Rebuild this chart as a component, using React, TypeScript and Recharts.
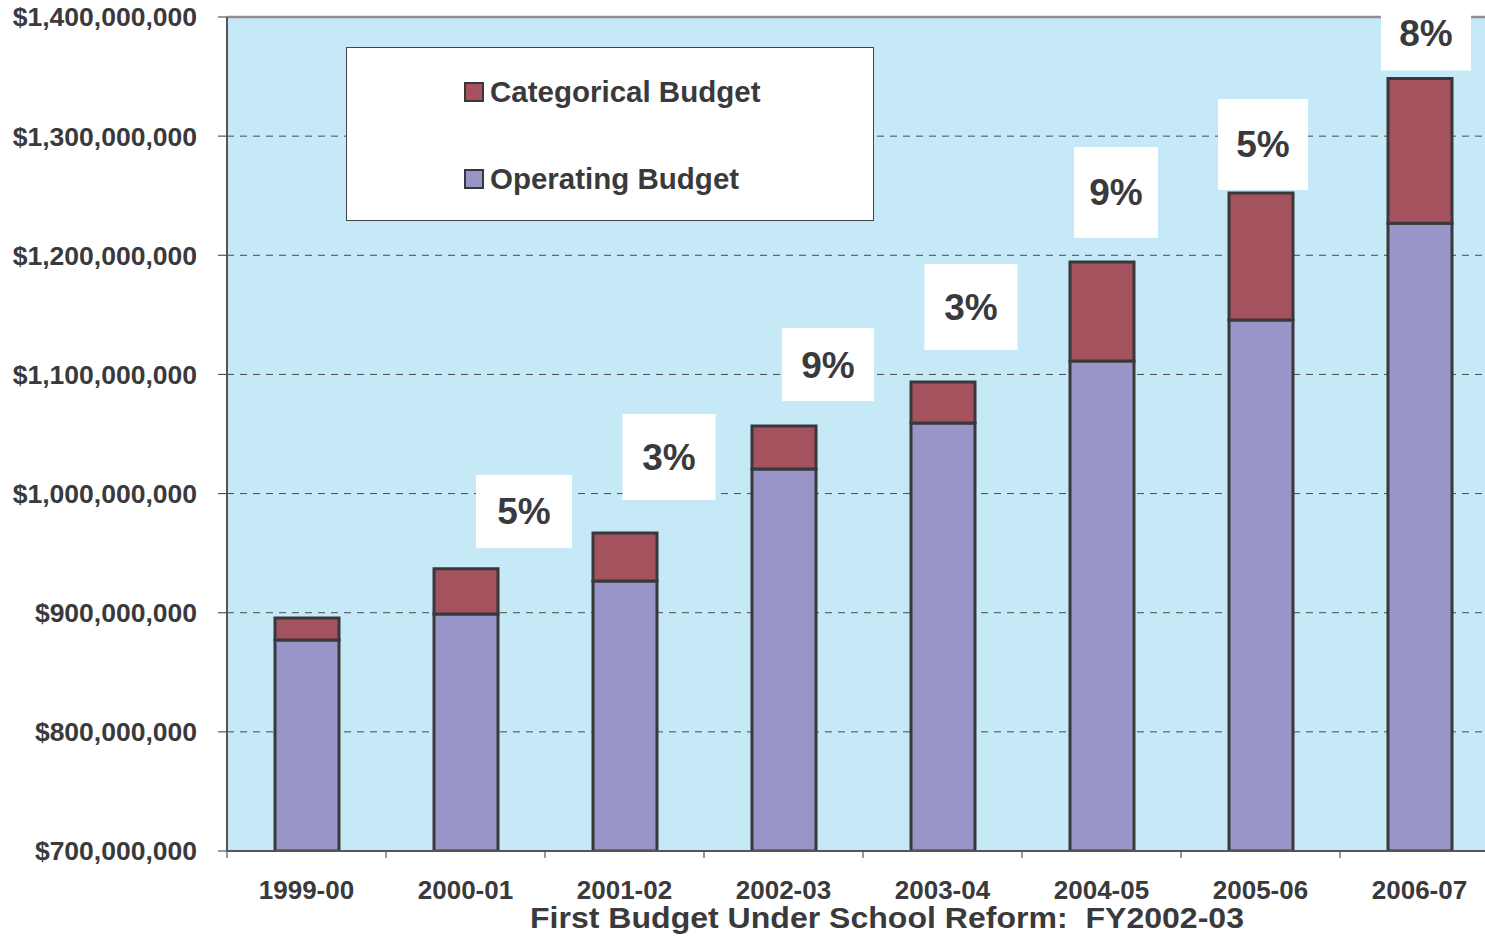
import React from 'react';
import { BarChart, Bar, XAxis, YAxis, CartesianGrid, ReferenceLine, Legend, LabelList } from 'recharts';

const categories = ['1999-00', '2000-01', '2001-02', '2002-03', '2003-04', '2004-05', '2005-06', '2006-07'];
const operatingBudget = [877000000, 899000000, 926600000, 1020600000, 1059200000, 1111300000, 1145700000, 1226900000];
const categoricalBudget = [18500000, 37800000, 40300000, 36100000, 34400000, 83100000, 106600000, 121500000];
const growthLabels = ['', '5%', '3%', '9%', '3%', '9%', '5%', '8%'];
const yTicks = [700000000, 800000000, 900000000, 1000000000, 1100000000, 1200000000, 1300000000, 1400000000];
const xAxisTitle = 'First Budget Under School Reform:  FY2002-03';

// label box styling (offset from bar centre, gap above bar top, box size)
const labelBoxStyle = [
  { dx: 0, gap: 0, w: 0, h: 0 },
  { dx: 58, gap: 21, w: 96, h: 73 },
  { dx: 44, gap: 33, w: 93, h: 86 },
  { dx: 44, gap: 25, w: 92, h: 73 },
  { dx: 28, gap: 32, w: 93, h: 86 },
  { dx: 14, gap: 24, w: 84, h: 91 },
  { dx: 2, gap: 3, w: 90, h: 91 },
  { dx: 6, gap: 8, w: 90, h: 74 },
];

const data = categories.map((c, i) => ({
  year: c,
  operating: operatingBudget[i],
  categorical: categoricalBudget[i],
  growth: growthLabels[i],
}));

const FONT = '"Liberation Sans", Arial, Helvetica, sans-serif';
const TEXT = '#3a3a3c';
const BG = '#C6E9F8';
const CAT = '#A5525F';
const OPS = '#9A95C8';
const EDGE = '#38383a';

const fmt = (v: number) => '$' + v.toLocaleString('en-US');

const XTick = (props: any) => {
  const { x, y, payload, index, visibleTicksCount } = props;
  const half = payload && payload.offset ? payload.offset : 79.5;
  const last = index === (visibleTicksCount ?? categories.length) - 1;
  return (
    <g>
      <line x1={x - half} y1={y} x2={x - half} y2={y + 7} stroke="#555" strokeWidth={1.2} />
      {last && <line x1={x + half} y1={y} x2={x + half} y2={y + 7} stroke="#555" strokeWidth={1.2} />}
      <text x={x} y={y + 48} textAnchor="middle" fontFamily={FONT} fontWeight="bold" fontSize={26} fill={TEXT}>
        {payload.value}
      </text>
    </g>
  );
};

const GrowthLabel = (props: any) => {
  const { x, y, width, index } = props;
  const label = growthLabels[index];
  if (!label) return null;
  const s = labelBoxStyle[index];
  const cx = x + width / 2 + s.dx;
  const bottom = y - s.gap;
  const top = bottom - s.h;
  return (
    <g>
      <rect x={cx - s.w / 2} y={top} width={s.w} height={s.h} fill="#ffffff" />
      <text x={cx} y={top + s.h / 2 + 13} textAnchor="middle" fontFamily={FONT} fontWeight="bold" fontSize={37} fill={TEXT}>
        {label}
      </text>
    </g>
  );
};

const LegendBox = (props: any) => {
  const items = [...(props.payload || [])];
  return (
    <div
      style={{
        width: 526,
        height: 172,
        background: '#fff',
        border: '1px solid #444',
        position: 'relative',
        fontFamily: FONT,
      }}
    >
      {items.map((it: any, i: number) => (
        <div
          key={i}
          style={{
            position: 'absolute',
            left: 117,
            top: i === 0 ? 26 : 113,
            height: 36,
            display: 'flex',
            alignItems: 'center',
            whiteSpace: 'nowrap',
          }}
        >
          <span
            style={{
              display: 'inline-block',
              width: 16,
              height: 16,
              background: it.color,
              border: `2px solid ${EDGE}`,
              marginRight: 6,
            }}
          />
          <span style={{ fontSize: 29.5, fontWeight: 'bold', color: TEXT }}>{it.value}</span>
        </div>
      ))}
    </div>
  );
};

const TitleLabel = (props: any) => {
  const vb = props.viewBox || { x: 227, y: 851, width: 1272, height: 88 };
  return (
    <text
      x={530}
      y={vb.y + 77}
      textAnchor="start"
      fontFamily={FONT}
      fontWeight="bold"
      fontSize={29}
      fill={TEXT}
      textLength={714}
      lengthAdjust="spacingAndGlyphs"
      style={{ whiteSpace: 'pre' }}
      xmlSpace="preserve"
    >
      {xAxisTitle}
    </text>
  );
};

export default function App() {
  return (
    <div style={{ position: 'absolute', left: 0, top: 0, width: 1485, height: 939, background: '#fff', overflow: 'hidden' }}>
      <BarChart
        width={1499}
        height={939}
        data={data}
        margin={{ top: 17, right: 0, bottom: 0, left: 0 }}
        barSize={64}
      >
        <CartesianGrid
          vertical={false}
          horizontal
          fill={BG}
          stroke="#4a4a4a"
          strokeDasharray="7 6"
          strokeWidth={1}
        />
        <ReferenceLine y={1400000000} stroke="#968b8b" strokeWidth={2.5} />
        <XAxis
          dataKey="year"
          height={88}
          interval={0}
          tickLine={false}
          tickSize={0}
          tickMargin={0}
          axisLine={{ stroke: '#555', strokeWidth: 2 }}
          tick={<XTick />}
          label={{ content: <TitleLabel /> } as any}
        />
        <YAxis
          width={227}
          domain={[700000000, 1400000000]}
          ticks={yTicks}
          allowDataOverflow
          interval={0}
          tickSize={9}
          tickMargin={21}
          tickLine={{ stroke: '#555', strokeWidth: 1.2 }}
          axisLine={{ stroke: '#555', strokeWidth: 2 }}
          tickFormatter={fmt}
          tick={{ fontFamily: FONT, fontWeight: 'bold', fontSize: 26.5, fill: TEXT }}
        />
        <Legend
          layout="horizontal"
          verticalAlign="middle"
          align="center"
          content={<LegendBox />}
          wrapperStyle={{ position: 'absolute', left: 346, top: 47, width: 528, height: 174 }}
        />
        <Bar
          dataKey="operating"
          name="Operating Budget"
          stackId="a"
          fill={OPS}
          stroke={EDGE}
          strokeWidth={3}
          isAnimationActive={false}
        />
        <Bar
          dataKey="categorical"
          name="Categorical Budget"
          stackId="a"
          fill={CAT}
          stroke={EDGE}
          strokeWidth={3}
          isAnimationActive={false}
        >
          <LabelList dataKey="growth" content={<GrowthLabel />} />
        </Bar>
      </BarChart>
    </div>
  );
}
